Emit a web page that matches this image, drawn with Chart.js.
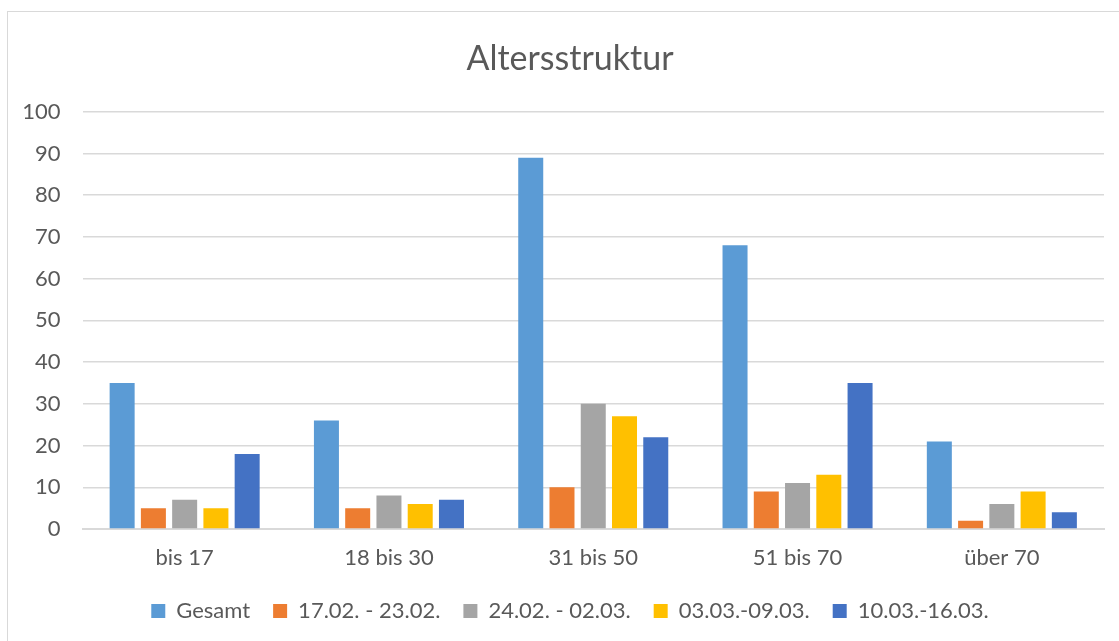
<!DOCTYPE html>
<html lang="de">
<head>
    <meta charset="UTF-8">
    <title>Altersstruktur</title>
    <script src="https://cdn.jsdelivr.net/npm/chart.js"></script>
    <style>
        body { margin: 0; overflow: hidden; background: #fff; }
        .chart-container {
            position: absolute;
            left: 7px;
            top: 11px;
            width: 1126px;
            height: 650px;
            border: 1.5px solid #d9d9d9;
            box-sizing: border-box;
        }
    </style>
</head>
<body>
    <div class="chart-container">
        <canvas id="chartCanvas"></canvas>
    </div>

    <script>
        const categories = ['bis 17', '18 bis 30', '31 bis 50', '51 bis 70', 'über 70'];
        const seriesNames = ['Gesamt', '17.02. - 23.02.', '24.02. - 02.03.', '03.03.-09.03.', '10.03.-16.03.'];
        const gesamt = [35, 26, 89, 68, 21];
        const woche1 = [5, 5, 10, 9, 2];
        const woche2 = [7, 8, 30, 11, 6];
        const woche3 = [5, 6, 27, 13, 9];
        const woche4 = [18, 7, 22, 35, 4];
        const colors = ['#5b9bd5', '#ed7d31', '#a5a5a5', '#ffc000', '#4472c4'];

        const values = [gesamt, woche1, woche2, woche3, woche4];
        Chart.defaults.font.family = "Lato, 'Open Sans', sans-serif";
        Chart.defaults.color = '#595959';

        new Chart(document.getElementById('chartCanvas'), {
            type: 'bar',
            data: {
                labels: categories,
                datasets: seriesNames.map((name, i) => ({
                    label: name,
                    data: values[i],
                    backgroundColor: colors[i],
                    borderWidth: 0,
                    barPercentage: 0.8,
                    categoryPercentage: 0.765
                }))
            },
            options: {
                responsive: true,
                maintainAspectRatio: false,
                animation: false,
                layout: { padding: { left: 0, right: 0, top: 0, bottom: 28 } },
                plugins: {
                    title: {
                        display: true,
                        text: 'Altersstruktur',
                        font: { size: 34, weight: 'normal' },
                        color: '#595959',
                        padding: { top: 27, bottom: 32 }
                    },
                    legend: {
                        position: 'bottom',
                        labels: {
                            boxWidth: 14,
                            boxHeight: 14,
                            padding: 23,
                            font: { size: 22 }
                        }
                    },
                    tooltip: { enabled: false }
                },
                scales: {
                    x: {
                        afterFit: (scale) => { scale.height = 48; },
                        grid: { display: false, drawTicks: false },
                        border: { color: '#d9d9d9', width: 2 },
                        ticks: { font: { size: 22 }, padding: 16 }
                    },
                    y: {
                        min: 0,
                        max: 100,
                        afterFit: (scale) => { scale.width = 74.5; },
                        ticks: { stepSize: 10, font: { size: 22 }, padding: 22 },
                        grid: { color: '#d9d9d9', lineWidth: 1.5, drawTicks: false },
                        border: { display: false }
                    },
                    // leerer Rand rechts, damit Titel und Legende mittig bleiben
                    yRand: {
                        position: 'right',
                        afterFit: (scale) => { scale.width = 28; },
                        grid: { display: false, drawTicks: false },
                        ticks: { display: false },
                        border: { display: false }
                    }
                }
            }
        });
    </script>
</body>
</html>
